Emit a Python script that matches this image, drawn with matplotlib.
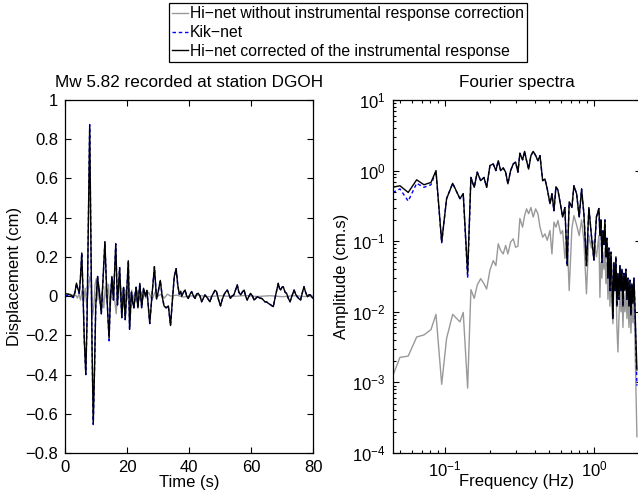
#Plots a displacement record and its Fourier spectra for the DGOH station (Hi-net vs Kik-net)

import numpy as np
import matplotlib
matplotlib.use("Agg")
import matplotlib.pyplot as plt
from matplotlib.ticker import FuncFormatter, LogLocator

plt.rcParams['font.family'] = ['Liberation Sans', 'DejaVu Sans']
plt.rcParams['font.size'] = 12
plt.rcParams['mathtext.default'] = 'regular'

### displacement time series (s, cm)
time_corr = [0.0, 1.0, 2.0, 2.7, 3.2, 3.7, 4.1, 4.6, 5.0, 5.4, 5.8, 6.2, 6.7, 7.1, 7.5, 7.95, 8.3, 8.7, 9.1, 9.5,
	9.9, 10.5, 11.1, 11.7, 12.3, 12.85, 13.4, 13.8, 14.2, 14.6, 15.1, 15.6, 16.35, 16.9, 17.6, 18.3, 18.9, 19.4, 19.8, 20.4,
	20.8, 21.4, 21.8, 22.2, 22.9, 23.5, 24.1, 24.7, 25.3, 25.9, 26.4, 27.3, 28.0, 28.8, 29.5, 30.0, 30.7, 31.3, 31.9, 32.6,
	33.3, 34.0, 34.6, 35.2, 35.8, 36.3, 36.8, 37.3, 37.6, 38.2, 38.7, 39.2, 39.7, 40.3, 40.8, 41.4, 41.9, 42.4, 42.9, 43.5,
	44.0, 44.6, 45.1, 45.9, 46.7, 47.3, 47.8, 48.3, 48.8, 49.5, 50.1, 50.6, 51.2, 51.7, 52.3, 52.8, 53.3, 53.8, 54.4, 54.9,
	55.5, 56.0, 56.6, 57.1, 57.7, 58.2, 58.7, 59.3, 59.8, 60.4, 60.9, 61.4, 62.0, 62.7, 63.4, 63.9, 64.4, 65.0, 65.5, 66.3,
	67.1, 67.8, 68.7, 69.1, 69.5, 69.9, 70.3, 70.9, 71.4, 71.9, 72.5, 73.1, 73.8, 74.3, 74.8, 75.3, 75.9, 76.5, 77.0, 77.5,
	78.1, 78.6, 79.1, 79.5, 80.0]

hinet_corr_disp = [0.012, 0.01, 0.004, -0.004, 0.02, 0.066, 0.04, 0.015, 0.10, 0.22, 0.02, -0.22, -0.40, -0.12, 0.35, 0.87, 0.35, -0.25, -0.65, -0.38,
	-0.05, 0.10, 0.01, -0.09, 0.10, 0.278, 0.04, -0.10, -0.215, -0.02, 0.10, -0.02, 0.268, -0.045, 0.145, -0.11, 0.045, -0.12, 0.0, 0.18,
	-0.17, 0.02, -0.03, -0.06, 0.045, -0.06, 0.065, -0.06, 0.04, 0.0, 0.03, -0.14, 0.0, 0.15, -0.015, 0.02, 0.08, 0.0, -0.05, -0.06,
	-0.05, -0.15, -0.02, 0.10, 0.14, 0.06, 0.01, 0.025, 0.0, 0.02, 0.031, 0.0, -0.012, 0.01, 0.023, 0.0, -0.012, 0.01, 0.014, 0.0,
	-0.029, -0.01, 0.006, -0.01, -0.029, 0.0, 0.014, 0.03, 0.023, -0.02, -0.05, -0.02, 0.006, 0.02, 0.031, 0.01, -0.012, 0.0, 0.006, 0.03,
	0.057, 0.02, 0.006, 0.02, 0.031, 0.0, -0.02, 0.0, 0.014, 0.0, -0.02, -0.012, -0.003, -0.01, -0.012, -0.02, -0.029, -0.03, -0.037, -0.045,
	-0.054, 0.0, 0.065, 0.04, 0.031, 0.045, 0.048, 0.02, 0.014, -0.01, -0.029, 0.0, 0.031, 0.01, -0.003, -0.012, -0.02, 0.02, 0.048, 0.02,
	-0.003, 0.006, 0.006, -0.005, -0.012]

kiknet_disp = [0.004, 0.002, -0.002, -0.008, 0.018, 0.064, 0.038, 0.013, 0.10, 0.22, 0.02, -0.22, -0.40, -0.12, 0.35, 0.875, 0.35, -0.25, -0.655, -0.38,
	-0.05, 0.10, 0.01, -0.09, 0.10, 0.275, 0.04, -0.10, -0.228, -0.02, 0.10, -0.02, 0.265, -0.045, 0.145, -0.11, 0.045, -0.12, 0.0, 0.18,
	-0.17, 0.02, -0.03, -0.06, 0.045, -0.06, 0.065, -0.06, 0.04, 0.0, 0.03, -0.14, 0.0, 0.15, -0.015, 0.02, 0.08, 0.0, -0.05, -0.06,
	-0.05, -0.15, -0.02, 0.10, 0.14, 0.06, 0.01, 0.025, 0.0, 0.02, 0.031, 0.0, -0.012, 0.01, 0.023, 0.0, -0.012, 0.01, 0.014, 0.0,
	-0.029, -0.01, 0.006, -0.01, -0.029, 0.0, 0.014, 0.03, 0.023, -0.02, -0.05, -0.02, 0.006, 0.02, 0.031, 0.01, -0.012, 0.0, 0.006, 0.03,
	0.057, 0.02, 0.006, 0.02, 0.031, 0.0, -0.02, 0.0, 0.014, 0.0, -0.02, -0.012, -0.003, -0.01, -0.012, -0.02, -0.029, -0.03, -0.037, -0.045,
	-0.054, 0.0, 0.065, 0.04, 0.031, 0.045, 0.048, 0.02, 0.014, -0.01, -0.029, 0.0, 0.031, 0.01, -0.003, -0.012, -0.02, 0.02, 0.048, 0.02,
	-0.003, 0.006, 0.006, -0.005, -0.012]

time_raw = [0.0, 1.0, 2.0, 3.0, 3.5, 4.0, 4.5, 5.0, 5.5, 6.0, 6.5, 7.0, 7.5, 8.0, 8.5, 8.9, 9.3, 9.7, 10.1, 10.6,
	11.0, 11.5, 12.0, 12.5, 13.0, 13.5, 14.0, 14.5, 15.0, 15.5, 16.0, 16.5, 17.0, 17.5, 18.0, 18.5, 19.0, 19.5, 20.0, 20.5,
	21.0, 21.5, 22.0, 22.5, 23.0, 23.5, 24.0, 24.5, 25.0, 25.5, 26.0, 27.0, 28.0, 29.0, 30.0, 31.0, 32.0, 33.0, 34.0, 36.0,
	38.0, 40.0, 43.0, 46.0, 50.0, 54.0, 58.0, 62.0, 66.0, 70.0, 74.0, 77.0, 80.0]

hinet_raw_disp = [0.012, 0.012, 0.008, 0.0, 0.005, -0.01, 0.01, -0.02, 0.03, -0.03, 0.04, -0.05, 0.03, 0.10, 0.09, -0.10, -0.05, 0.06, 0.09, -0.02,
	0.05, -0.04, 0.03, -0.06, 0.05, -0.03, 0.06, -0.07, 0.04, 0.06, -0.02, -0.09, 0.05, 0.07, -0.03, 0.04, -0.06, 0.03, -0.02, 0.05,
	-0.05, 0.03, -0.02, 0.02, -0.03, 0.03, -0.02, 0.02, -0.02, 0.03, -0.01, 0.02, -0.02, 0.02, 0.0, 0.01, -0.01, 0.01, 0.0, 0.005,
	-0.005, 0.0, 0.004, -0.003, 0.002, -0.002, 0.003, -0.002, 0.002, -0.003, 0.002, -0.002, 0.0]

### Fourier amplitude spectra (Hz, cm.s)
freq = [0.0446, 0.0499, 0.0567, 0.0646, 0.0723, 0.0806, 0.0871, 0.0951, 0.1026, 0.1127,
	0.1261, 0.1327, 0.1420, 0.1494, 0.1573, 0.1648, 0.1737, 0.1828, 0.1905, 0.2005,
	0.2110, 0.2198, 0.2279, 0.2365, 0.2462, 0.2555, 0.2646, 0.2760, 0.2873, 0.2980,
	0.3090, 0.3184, 0.3321, 0.3425, 0.3532, 0.3645, 0.3777, 0.3914, 0.4064, 0.4208,
	0.4345, 0.4529, 0.4691, 0.4863, 0.5070, 0.5226, 0.5391, 0.5559, 0.5732, 0.5981,
	0.6163, 0.6385, 0.6616, 0.6823, 0.7112, 0.7339, 0.7650, 0.7966, 0.8264, 0.8570,
	0.891, 0.925, 0.962, 1.000, 1.039, 1.080, 1.097, 1.114, 1.132, 1.149,
	1.167, 1.185, 1.204, 1.223, 1.242, 1.261, 1.281, 1.301, 1.321, 1.341,
	1.362, 1.384, 1.405, 1.427, 1.449, 1.472, 1.495, 1.518, 1.542, 1.566,
	1.590, 1.615, 1.640, 1.666, 1.692, 1.718, 1.745, 1.772, 1.799, 1.827,
	1.856, 1.885, 1.914, 1.944]

hinet_corr_spec = [0.58, 0.61, 0.49, 0.74, 0.63, 0.68, 1.0, 0.097, 0.40, 0.66,
	0.40, 0.47, 0.035, 0.80, 0.58, 0.95, 0.72, 0.80, 0.58, 1.18,
	1.24, 1.0, 1.38, 1.0, 1.09, 0.95, 0.65, 1.0, 1.24, 1.32,
	0.95, 1.76, 1.42, 1.87, 1.38, 1.05, 1.63, 1.87, 1.63, 1.38,
	1.63, 0.72, 0.76, 0.55, 0.34, 0.47, 0.27, 0.59, 0.53, 0.32,
	0.22, 0.30, 0.045, 0.36, 0.30, 0.61, 0.47, 0.22, 0.55, 0.24,
	0.045, 0.30, 0.12, 0.054, 0.22, 0.29, 0.12, 0.20, 0.05, 0.14,
	0.09, 0.20, 0.06, 0.11, 0.03, 0.08, 0.02, 0.07, 0.03, 0.008,
	0.05, 0.02, 0.06, 0.012, 0.035, 0.015, 0.045, 0.02, 0.04, 0.012,
	0.035, 0.02, 0.04, 0.015, 0.03, 0.012, 0.028, 0.009, 0.025, 0.013,
	0.03, 0.012, 0.004, 0.0015]

kiknet_spec = [0.49, 0.55, 0.37, 0.66, 0.58, 0.63, 0.97, 0.095, 0.40, 0.66,
	0.40, 0.47, 0.03, 0.80, 0.58, 0.95, 0.72, 0.80, 0.58, 1.18,
	1.24, 1.0, 1.38, 1.0, 1.09, 0.95, 0.65, 1.0, 1.24, 1.32,
	0.95, 1.76, 1.42, 1.87, 1.38, 1.05, 1.63, 1.87, 1.63, 1.38,
	1.63, 0.72, 0.76, 0.55, 0.34, 0.47, 0.27, 0.59, 0.53, 0.32,
	0.22, 0.30, 0.045, 0.36, 0.30, 0.61, 0.47, 0.22, 0.55, 0.24,
	0.045, 0.30, 0.12, 0.054, 0.22, 0.29, 0.12, 0.20, 0.05, 0.14,
	0.09, 0.20, 0.06, 0.11, 0.03, 0.08, 0.02, 0.07, 0.03, 0.008,
	0.05, 0.02, 0.06, 0.012, 0.035, 0.015, 0.045, 0.02, 0.04, 0.012,
	0.035, 0.02, 0.04, 0.015, 0.03, 0.012, 0.028, 0.009, 0.025, 0.013,
	0.03, 0.012, 0.003, 0.0009]

hinet_raw_spec = [1.23e-3, 2.26e-3, 2.36e-3, 4.4e-3, 4.7e-3, 5.6e-3, 9.2e-3, 9.4e-4, 4.2e-3, 9.2e-3,
	7.2e-3, 9.8e-3, 8.3e-4, 0.0206, 0.0155, 0.024, 0.0295, 0.025, 0.021, 0.039,
	0.053, 0.045, 0.092, 0.074, 0.066, 0.087, 0.066, 0.097, 0.108, 0.082,
	0.085, 0.21, 0.158, 0.23, 0.287, 0.245, 0.30, 0.22, 0.287, 0.245,
	0.158, 0.114, 0.127, 0.103, 0.142, 0.066, 0.186, 0.158, 0.197, 0.127,
	0.142, 0.057, 0.11, 0.02, 0.15, 0.23, 0.17, 0.12, 0.2, 0.1,
	0.018, 0.12, 0.08, 0.1, 0.06, 0.12, 0.016, 0.05, 0.03, 0.07,
	0.04, 0.08, 0.025, 0.05, 0.015, 0.04, 0.012, 0.03, 0.012, 0.0068,
	0.025, 0.02, 0.03, 0.006, 0.0027, 0.008, 0.025, 0.01, 0.02, 0.006,
	0.018, 0.01, 0.02, 0.008, 0.016, 0.006, 0.015, 0.005, 0.013, 0.007,
	0.014, 0.004, 0.0008, 0.00017]

grey = (0.6, 0.6, 0.6)

def minus_fmt(v, pos):
	return ('%g' % v).replace('-', '\u2212')

fig = plt.figure(figsize=(6.38, 4.94), dpi=100)
ax1 = fig.add_axes([0.1019, 0.0830, 0.3892, 0.7146])
ax2 = fig.add_axes([0.6155, 0.0830, 0.3892, 0.7146])

#displacement
l_raw, = ax1.plot(time_raw, hinet_raw_disp, color=grey, lw=1.0)
l_kik, = ax1.plot(time_corr, kiknet_disp, color='b', lw=1.0, ls=(0, (2.5, 2)))
l_corr, = ax1.plot(time_corr, hinet_corr_disp, color='k', lw=1.0)

ax1.set_xlim(0, 80)
ax1.set_ylim(-0.8, 1)
ax1.set_xticks([0, 20, 40, 60, 80])
ax1.set_yticks([-0.8, -0.6, -0.4, -0.2, 0, 0.2, 0.4, 0.6, 0.8, 1])
ax1.yaxis.set_major_formatter(FuncFormatter(minus_fmt))
ax1.tick_params(direction='in', top=True, right=True, length=4, width=0.8, pad=5)
ax1.set_xlabel('Time (s)', labelpad=0)
ax1.set_ylabel('Displacement (cm)', labelpad=2)
ax1.set_title('Mw 5.82 recorded at station DGOH', fontsize=12.3, pad=9)

#spectra
ax2.loglog(freq, hinet_raw_spec, color=grey, lw=1.0)
ax2.loglog(freq, kiknet_spec, color='b', lw=1.0, ls=(0, (2.5, 2)))
ax2.loglog(freq, hinet_corr_spec, color='k', lw=1.0)

ax2.set_xlim(0.0446, 2.07)
ax2.set_ylim(1e-4, 10)
ax2.yaxis.set_major_locator(LogLocator(base=10, numticks=10))
ax2.yaxis.set_minor_locator(LogLocator(base=10, subs=np.arange(2, 10), numticks=20))
ax2.tick_params(which='both', direction='in', top=True, right=True, width=0.8, pad=5)
ax2.tick_params(which='major', length=4)
ax2.tick_params(which='minor', length=2)
ax2.set_xlabel('Frequency (Hz)', labelpad=-4)
ax2.set_ylabel('Amplitude (cm.s)', labelpad=2)
ax2.set_title('Fourier spectra', fontsize=12.3, pad=9)

for ax in (ax1, ax2):
	for s in ax.spines.values():
		s.set_linewidth(0.9)

leg = fig.legend([l_raw, l_kik, l_corr],
	['Hi\u2212net without instrumental response correction', 'Kik\u2212net',
	 'Hi\u2212net corrected of the instrumental response'],
	loc='upper left', bbox_to_anchor=(169/638, 1 - 3/494), fontsize=11.3,
	fancybox=False, framealpha=1, edgecolor='k', borderpad=0.2, borderaxespad=0,
	handlelength=1.0, handletextpad=0.15, labelspacing=0.25)
leg.get_frame().set_linewidth(0.9)

plt.savefig('out.png', dpi=100)
